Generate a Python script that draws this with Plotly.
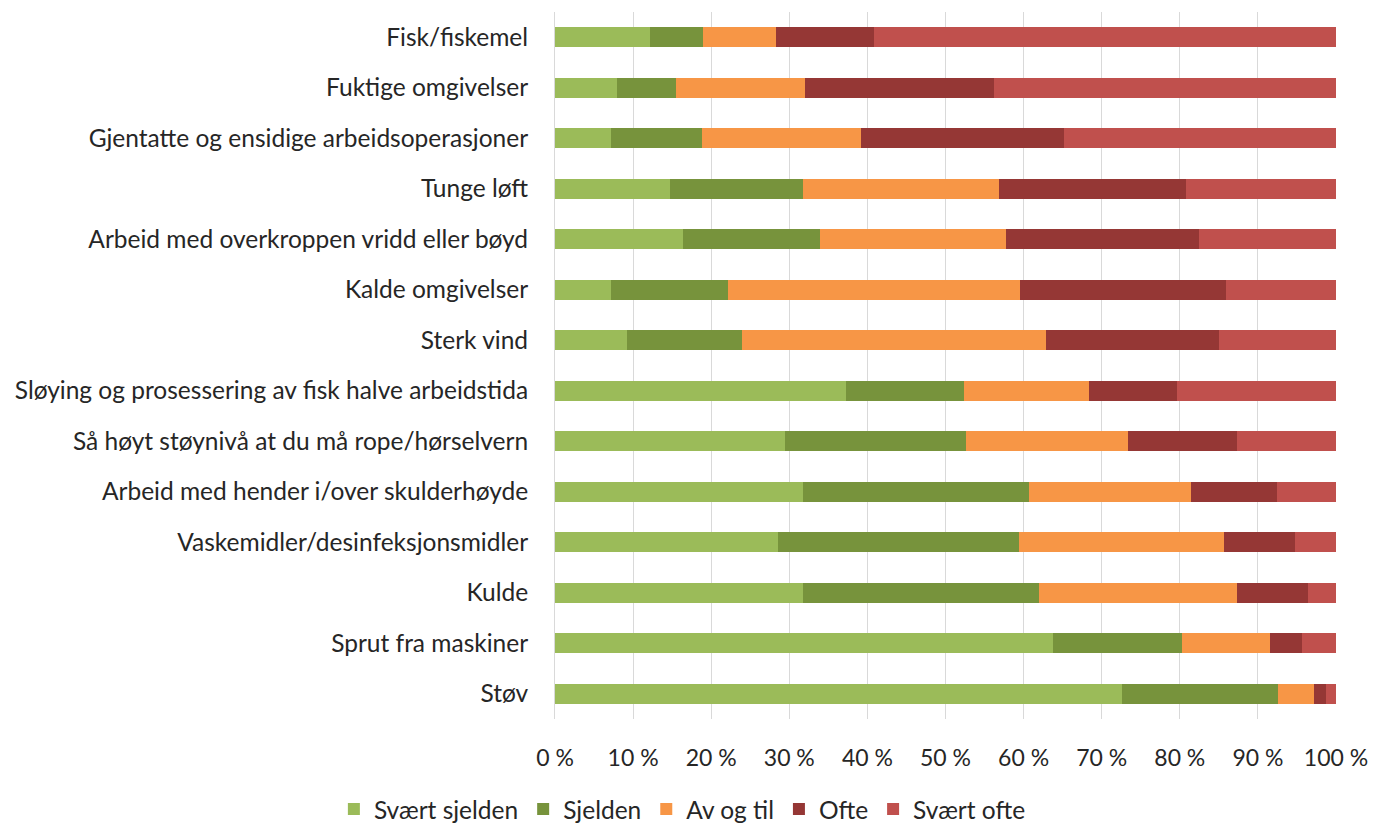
import plotly.graph_objects as go

categories = [
    "Fisk/fiskemel",
    "Fuktige omgivelser",
    "Gjentatte og ensidige arbeidsoperasjoner",
    "Tunge løft",
    "Arbeid med overkroppen vridd eller bøyd",
    "Kalde omgivelser",
    "Sterk vind",
    "Sløying og prosessering av fisk halve arbeidstida",
    "Så høyt støynivå at du må rope/hørselvern",
    "Arbeid med hender i/over skulderhøyde",
    "Vaskemidler/desinfeksjonsmidler",
    "Kulde",
    "Sprut fra maskiner",
    "Støv",
]

svaert_sjelden = [12.2, 7.9, 7.2, 14.7, 16.4, 7.2, 9.2, 37.3, 29.4, 31.7, 28.5, 31.7, 63.7, 72.6]
sjelden = [6.8, 7.6, 11.6, 17.0, 17.5, 14.9, 14.8, 15.1, 23.2, 29.0, 30.9, 30.3, 16.6, 20.0]
av_og_til = [9.3, 16.5, 20.4, 25.1, 23.9, 37.5, 38.9, 16.0, 20.8, 20.7, 26.2, 25.3, 11.2, 4.6]
ofte = [12.6, 24.2, 26.0, 24.0, 24.6, 26.3, 22.1, 11.3, 13.9, 11.1, 9.2, 9.1, 4.1, 1.5]
svaert_ofte = [59.1, 43.8, 34.8, 19.2, 17.6, 14.1, 15.0, 20.3, 12.7, 7.5, 5.2, 3.6, 4.4, 1.3]

tick_vals = [0, 10, 20, 30, 40, 50, 60, 70, 80, 90, 100]
tick_text = ["0 %", "10 %", "20 %", "30 %", "40 %", "50 %", "60 %", "70 %", "80 %", "90 %", "100 %"]

series = [
    ("Svært sjelden", svaert_sjelden, "#9BBB59"),
    ("Sjelden", sjelden, "#77933C"),
    ("Av og til", av_og_til, "#F79646"),
    ("Ofte", ofte, "#953735"),
    ("Svært ofte", svaert_ofte, "#C0504D"),
]

fig = go.Figure()
for name, vals, col in series:
    fig.add_trace(go.Bar(
        y=categories, x=vals, name=name, orientation="h",
        marker=dict(color=col, line=dict(width=0)),
    ))

font_family = "Lato, 'Open Sans', sans-serif"

fig.update_layout(
    barmode="stack",
    bargap=0.6,
    width=1373, height=824,
    margin=dict(l=555, r=37, t=12, b=105, autoexpand=False),
    paper_bgcolor="white",
    plot_bgcolor="white",
    font=dict(family=font_family, size=24.5, color="#262626"),
    legend=dict(
        orientation="h", xref="container", x=0.497, xanchor="center",
        yref="container", y=0.018, yanchor="middle",
        font=dict(size=24.5, color="#262626"), itemwidth=30, traceorder="normal",
    ),
    showlegend=True,
)
fig.update_xaxes(
    range=[0, 100], tickvals=tick_vals, ticktext=tick_text,
    tickfont=dict(size=23), ticklabeloverflow="allow",
    showgrid=True, gridcolor="#D9D9D9", gridwidth=1, automargin=False,
    zeroline=False, showline=False, ticks="", ticklabelstandoff=23,
    fixedrange=True,
)
fig.update_yaxes(
    autorange="reversed", showgrid=False, zeroline=False, automargin=False,
    showline=True, linecolor="#D9D9D9", linewidth=1,
    ticks="", ticklabelstandoff=21,
)

# drop the default body margin so the figure fills the window exactly
fig.write_html(
    "out.html",
    config={"displayModeBar": False},
    post_script="document.body.style.margin = '0';",
)
